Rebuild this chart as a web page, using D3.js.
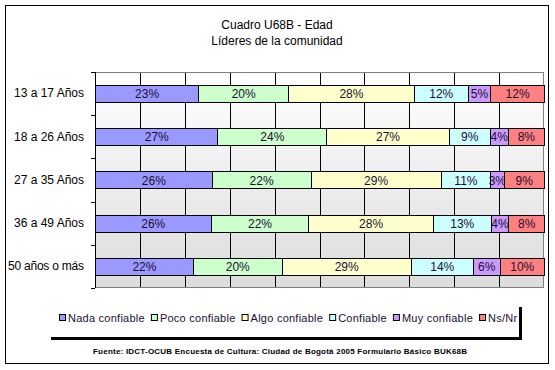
<!DOCTYPE html>
<html>
<head>
<meta charset="utf-8">
<script src="https://cdn.jsdelivr.net/npm/d3@7"></script>
<style>
  body { margin: 0; background: #fff; }
  text { font-family: Arial, "Liberation Sans", sans-serif; }
</style>
</head>
<body>
<div class="canvas"></div>
<script>
// data
const groups = ['13 a 17 Años', '18 a 26 Años', '27 a 35 Años', '36 a 49 Años', '50 años o más'];
const series = ['Nada confiable', 'Poco confiable', 'Algo confiable', 'Confiable', 'Muy confiable', 'Ns/Nr'];
const colors = ['#9999ff', '#ccffcc', '#ffffcc', '#ccffff', '#cc99ff', '#ff8080'];
const nada  = [23, 27, 26, 26, 22];
const poco  = [20, 24, 22, 22, 20];
const algo  = [28, 27, 29, 28, 29];
const conf  = [12, 9, 11, 13, 14];
const muy   = [5, 4, 3, 4, 6];
const nsnr  = [12, 8, 9, 8, 10];
const xTicks = [0, 10, 20, 30, 40, 50, 60, 70, 80, 90, 100];
const title1 = 'Cuadro U68B - Edad';
const title2 = 'Líderes de la comunidad';
const source = 'Fuente: IDCT-OCUB Encuesta de Cultura: Ciudad de Bogotá 2005 Formulario Básico BUK68B';

const width = 555, height = 370;
const margin = {top: 72, right: 11, bottom: 82, left: 95};
const graphWidth = width - margin.left - margin.right;
const graphHeight = height - margin.top - margin.bottom;

// build table for the stack
const cols = [nada, poco, algo, conf, muy, nsnr];
const table = groups.map((g, i) => {
  const row = {group: g};
  series.forEach((s, j) => row[s] = cols[j][i]);
  return row;
});

const stack = d3.stack().keys(series).offset(d3.stackOffsetExpand);
const stacked = stack(table);

const svg = d3.select('.canvas')
  .append('svg')
  .attr('width', width)
  .attr('height', height);

svg.append('rect')
  .attr('width', width).attr('height', height)
  .attr('fill', '#fff');

// outer frame
svg.append('rect')
  .attr('x', 5.5).attr('y', 5.5)
  .attr('width', 543).attr('height', 358)
  .attr('fill', 'none')
  .attr('stroke', '#000');

// titles
svg.append('text')
  .attr('x', 277).attr('y', 29)
  .attr('text-anchor', 'middle')
  .attr('font-size', 12)
  .attr('fill', '#000')
  .text(title1);
svg.append('text')
  .attr('x', 277).attr('y', 45)
  .attr('text-anchor', 'middle')
  .attr('font-size', 12)
  .attr('fill', '#000')
  .text(title2);

// gradient background for plot area
const defs = svg.append('defs');
const grad = defs.append('linearGradient')
  .attr('id', 'bg').attr('x1', 0).attr('y1', 0).attr('x2', 0).attr('y2', 1);
grad.append('stop').attr('offset', '0%').attr('stop-color', '#ffffff');
grad.append('stop').attr('offset', '100%').attr('stop-color', '#dcdcdc');

const graph = svg.append('g')
  .attr('transform', `translate(${margin.left}, ${margin.top})`);

// scales
const x = d3.scaleLinear().domain([0, 100]).range([0, graphWidth]);
const y = d3.scaleBand().domain(groups).range([0, graphHeight]).paddingInner(0.6).paddingOuter(0.3);
const yOuter = d3.scaleBand().domain(groups).range([0, graphHeight]);

graph.append('rect')
  .attr('width', graphWidth).attr('height', graphHeight)
  .attr('fill', 'url(#bg)');

// vertical gridlines
graph.append('g')
  .selectAll('line')
  .data(xTicks.slice(1, -1))
  .join('line')
  .attr('x1', d => Math.round(x(d)) + 0.5)
  .attr('x2', d => Math.round(x(d)) + 0.5)
  .attr('y1', 0).attr('y2', graphHeight)
  .attr('stroke', '#000');

// plot border (gray)
graph.append('rect')
  .attr('x', 0.5).attr('y', 0.5)
  .attr('width', graphWidth - 1).attr('height', graphHeight - 1)
  .attr('fill', 'none')
  .attr('stroke', '#808080');

// bars
const layers = graph.append('g')
  .selectAll('g')
  .data(stacked)
  .join('g')
  .attr('fill', (d, i) => colors[i]);

layers.selectAll('rect')
  .data(d => d)
  .join('rect')
  .attr('x', d => Math.round(x(d[0] * 100)) + 0.5)
  .attr('y', d => Math.round(y(d.data.group)) + 0.5)
  .attr('width', d => Math.round(x(d[1] * 100)) - Math.round(x(d[0] * 100)))
  .attr('height', Math.round(y.bandwidth()))
  .attr('stroke', '#000')
  .attr('stroke-width', 1);

// bar labels
layers.each(function(layer) {
  const key = layer.key;
  d3.select(this).selectAll('text')
    .data(layer)
    .join('text')
    .attr('x', d => x((d[0] + d[1]) / 2 * 100) + 0.5)
    .attr('y', d => y(d.data.group) + y.bandwidth() / 2 + 4.5)
    .attr('text-anchor', 'middle')
    .attr('font-size', 12)
    .attr('fill', '#1a1030')
    .text(d => d.data[key] + '%');
});

// category axis
const yAxis = d3.axisLeft(yOuter).tickSize(0).tickPadding(11);
const yAxisGroup = graph.append('g').attr('class', 'y-axis').call(yAxis);
yAxisGroup.select('.domain').remove();
yAxisGroup.selectAll('text')
  .attr('font-size', 12)
  .attr('font-family', 'Arial, "Liberation Sans", sans-serif')
  .attr('fill', '#000')
  .attr('textLength', function() {
    // keep the long label inside the frame, as in the original
    const w = this.getComputedTextLength();
    return w > 76 ? 76 : w;
  });

// left axis line and boundary ticks
graph.append('line')
  .attr('x1', 0.5).attr('x2', 0.5)
  .attr('y1', 0).attr('y2', graphHeight)
  .attr('stroke', '#000');
const bounds = groups.map(g => yOuter(g)).concat([graphHeight]);
graph.append('g')
  .selectAll('line')
  .data(bounds)
  .join('line')
  .attr('x1', -4).attr('x2', 0)
  .attr('y1', d => Math.round(d) + 0.5)
  .attr('y2', d => Math.round(d) + 0.5)
  .attr('stroke', '#000');

// legend
const legend = svg.append('g');
const legendY = 322;
let lx = 59;
series.forEach((s, i) => {
  legend.append('rect')
    .attr('x', lx + 0.5).attr('y', legendY - 7.5)
    .attr('width', 6).attr('height', 6)
    .attr('fill', colors[i])
    .attr('stroke', '#000');
  const t = legend.append('text')
    .attr('x', lx + 9).attr('y', legendY)
    .attr('font-size', 11)
    .attr('letter-spacing', 0.25)
    .attr('fill', '#1a1030')
    .text(s);
  lx += 9 + t.node().getComputedTextLength() + 6;
});
// legend shadow
const legRight = Math.round(lx - 4);
svg.append('rect')
  .attr('x', 51).attr('y', 337)
  .attr('width', legRight - 51 + 3).attr('height', 3)
  .attr('fill', '#000');
svg.append('rect')
  .attr('x', legRight).attr('y', 307)
  .attr('width', 3).attr('height', 33)
  .attr('fill', '#000');

// source note
svg.append('text')
  .attr('x', 280).attr('y', 354)
  .attr('text-anchor', 'middle')
  .attr('font-size', 8)
  .attr('font-weight', 'bold')
  .attr('textLength', 374)
  .attr('fill', '#000')
  .text(source);
</script>
</body>
</html>
